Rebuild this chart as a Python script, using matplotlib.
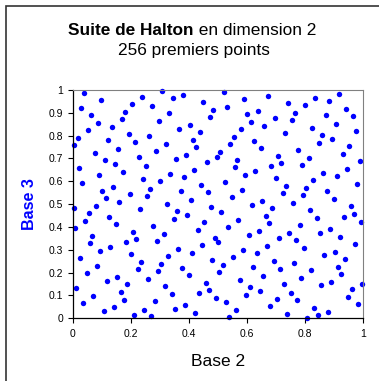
import matplotlib
matplotlib.use('Agg')
import matplotlib.pyplot as plt
from matplotlib.patches import Rectangle
import numpy as np

plt.rcParams['font.family'] = ['Liberation Sans', 'DejaVu Sans']

# Halton points 1..256, read as numerators
# base 2 coordinate: numerator over 256
base2_num = [
    128, 64, 192, 32, 160, 96, 224, 16, 144, 80, 208, 48, 176, 112, 240,
    8, 136, 72, 200, 40, 168, 104, 232, 24, 152, 88, 216, 56, 184, 120, 248,
    4, 132, 68, 196, 36, 164, 100, 228, 20, 148, 84, 212, 52, 180, 116, 244,
    12, 140, 76, 204, 44, 172, 108, 236, 28, 156, 92, 220, 60, 188, 124, 252,
    2, 130, 66, 194, 34, 162, 98, 226, 18, 146, 82, 210, 50, 178, 114, 242,
    10, 138, 74, 202, 42, 170, 106, 234, 26, 154, 90, 218, 58, 186, 122, 250,
    6, 134, 70, 198, 38, 166, 102, 230, 22, 150, 86, 214, 54, 182, 118, 246,
    14, 142, 78, 206, 46, 174, 110, 238, 30, 158, 94, 222, 62, 190, 126, 254,
    1, 129, 65, 193, 33, 161, 97, 225, 17, 145, 81, 209, 49, 177, 113, 241,
    9, 137, 73, 201, 41, 169, 105, 233, 25, 153, 89, 217, 57, 185, 121, 249,
    5, 133, 69, 197, 37, 165, 101, 229, 21, 149, 85, 213, 53, 181, 117, 245,
    13, 141, 77, 205, 45, 173, 109, 237, 29, 157, 93, 221, 61, 189, 125, 253,
    3, 131, 67, 195, 35, 163, 99, 227, 19, 147, 83, 211, 51, 179, 115, 243,
    11, 139, 75, 203, 43, 171, 107, 235, 27, 155, 91, 219, 59, 187, 123, 251,
    7, 135, 71, 199, 39, 167, 103, 231, 23, 151, 87, 215, 55, 183, 119, 247,
    15, 143, 79, 207, 47, 175, 111, 239, 31, 159, 95, 223, 63, 191, 127, 255,
    0.5,
]
# base 3 coordinate: numerator over 729
base3_num = [
    243, 486, 81, 324, 567, 162, 405, 648, 27, 270, 513, 108, 351, 594, 189, 432, 675,
    54, 297, 540, 135, 378, 621, 216, 459, 702,
    9, 252, 495, 90, 333, 576, 171, 414, 657, 36, 279, 522, 117, 360, 603, 198, 441,
    684, 63, 306, 549, 144, 387, 630, 225, 468, 711,
    18, 261, 504, 99, 342, 585, 180, 423, 666, 45, 288, 531, 126, 369, 612, 207, 450,
    693, 72, 315, 558, 153, 396, 639, 234, 477, 720,
    3, 246, 489, 84, 327, 570, 165, 408, 651, 30, 273, 516, 111, 354, 597, 192, 435,
    678, 57, 300, 543, 138, 381, 624, 219, 462, 705,
    12, 255, 498, 93, 336, 579, 174, 417, 660, 39, 282, 525, 120, 363, 606, 201, 444,
    687, 66, 309, 552, 147, 390, 633, 228, 471, 714,
    21, 264, 507, 102, 345, 588, 183, 426, 669, 48, 291, 534, 129, 372, 615, 210, 453,
    696, 75, 318, 561, 156, 399, 642, 237, 480, 723,
    6, 249, 492, 87, 330, 573, 168, 411, 654, 33, 276, 519, 114, 357, 600, 195, 438,
    681, 60, 303, 546, 141, 384, 627, 222, 465, 708,
    15, 258, 501, 96, 339, 582, 177, 420, 663, 42, 285, 528, 123, 366, 609, 204, 447,
    690, 69, 312, 555, 150, 393, 636, 231, 474, 717,
    24, 267, 510, 105, 348, 591, 186, 429, 672, 51, 294, 537, 132, 375, 618, 213, 456,
    699, 78, 321, 564, 159, 402, 645, 240, 483, 726,
    1, 244, 487, 82, 325, 568, 163, 406, 649, 28, 271, 514, 109, 352,
]

x_ticks = [0, 0.2, 0.4, 0.6, 0.8, 1]
y_ticks = [0, 0.1, 0.2, 0.3, 0.4, 0.5, 0.6, 0.7, 0.8, 0.9, 1]

x = np.array(base2_num) / 256
y = np.array(base3_num) / 729

fig = plt.figure(figsize=(3.79, 3.81), dpi=100)
ax = fig.add_axes([73 / 379, 1 - 318.3 / 381, 290 / 379, 228.3 / 381])

ax.plot(x, y, 'o', color='#0000ff', markersize=3.9, markeredgewidth=0, clip_on=False)

ax.set_xlim(0, 1)
ax.set_ylim(0, 1)
ax.set_xticks(x_ticks)
ax.set_xticklabels(['0', '0.2', '0.4', '0.6', '0.8', '1'])
ax.set_yticks(y_ticks)
ax.set_yticklabels(['0', '0.1', '0.2', '0.3', '0.4', '0.5', '0.6', '0.7', '0.8', '0.9', '1'])
ax.tick_params(axis='both', direction='out', length=3.4, width=0.8, labelsize=7.5, colors='black')
ax.tick_params(axis='x', pad=4.4)
ax.tick_params(axis='y', pad=3.8)

for side in ['top', 'right']:
    ax.spines[side].set_color('#808080')
    ax.spines[side].set_linewidth(0.8)
for side in ['left', 'bottom']:
    ax.spines[side].set_color('black')
    ax.spines[side].set_linewidth(0.9)

ax.set_xlabel('Base 2', fontsize=12.5, va='baseline')
ax.xaxis.set_label_coords(0.5, (318.3 - 366) / 228.3)
ax.set_ylabel('Base 3', fontsize=11.6, fontweight='bold', color='#0000ff', va='center')
ax.yaxis.set_label_coords((29.5 - 73) / 290, 0.5)

# title, first part bold
fig.text(194 / 379, 1 - 35 / 381, 'Suite de Halton', fontsize=12.4, fontweight='bold',
         ha='right', va='baseline')
fig.text(194 / 379, 1 - 35 / 381, ' en dimension 2', fontsize=12.4, ha='left', va='baseline')
fig.text(194 / 379, 1 - 55 / 381, '256 premiers points', fontsize=12.4, ha='center', va='baseline')

# outer frame
fig.patches.append(Rectangle((6 / 379, -0.1), 1.2, 1 - 6 / 381 + 0.1, transform=fig.transFigure,
                             fill=False, edgecolor='#333333', linewidth=1.2))

fig.savefig('out.png', dpi=100)
